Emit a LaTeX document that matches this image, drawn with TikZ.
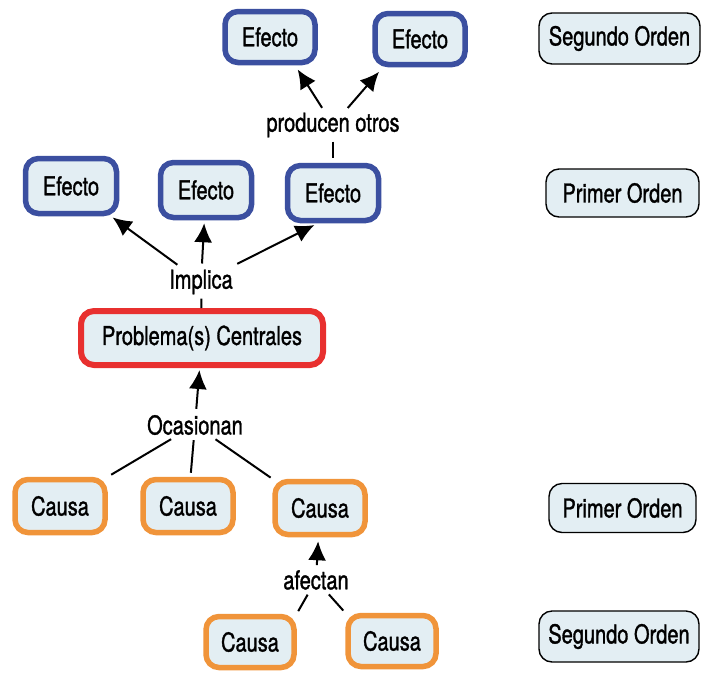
\documentclass[tikz,border=0pt]{standalone}
\usepackage{fontspec}
\setmainfont[FakeStretch=0.77,FakeBold=1.2]{TeX Gyre Heros}
\usetikzlibrary{arrows.meta,calc}
\definecolor{boxfill}{HTML}{E3EEF3}
\definecolor{efblue}{HTML}{3B4FA0}
\definecolor{pred}{HTML}{E8302F}
\definecolor{corange}{HTML}{F0943A}
\tikzset{
  basebox/.style={rounded corners=13pt, fill=boxfill, align=center, font=\fontsize{26}{28}\selectfont, inner sep=0pt},
  efbox/.style={basebox, draw=efblue, line width=5.5pt},
  probbox/.style={basebox, draw=pred, line width=6pt},
  cabox/.style={basebox, draw=corange, line width=5.5pt},
  legbox/.style={basebox, draw=black, line width=1.4pt},
  lbl/.style={font=\fontsize{26}{28}\selectfont, inner sep=3pt},
  arr/.style={line width=2pt, -{Latex[length=19pt,width=18pt]}},
  ln/.style={line width=2pt}
}
\begin{document}
\begin{tikzpicture}[x=1pt,y=-1pt]
\useasboundingbox (0,0) rectangle (701,673);
% second order effects
\node[efbox, minimum width=90pt, minimum height=51pt] (e21) at (270,37) {Efecto};
\node[efbox, minimum width=90pt, minimum height=51pt] (e22) at (420,39) {Efecto};
\node[lbl] (prod) at (333,125) {producen otros};
% first order effects
\node[efbox, minimum width=91pt, minimum height=55pt] (e11) at (71,186) {Efecto};
\node[efbox, minimum width=91pt, minimum height=55pt] (e12) at (206,190) {Efecto};
\node[efbox, minimum width=91pt, minimum height=55pt] (e13) at (333,193) {Efecto};
\node[lbl] (imp) at (201,282) {Implica};
% central problem
\node[probbox, minimum width=242pt, minimum height=54pt] (prob) at (202,338) {Problema(s) Centrales};
\node[lbl] (oc) at (195,425) {Ocasionan};
% causes
\node[cabox, minimum width=90pt, minimum height=53pt] (c11) at (60,506) {Causa};
\node[cabox, minimum width=90pt, minimum height=53pt] (c12) at (188,506) {Causa};
\node[cabox, minimum width=90pt, minimum height=53pt] (c13) at (320,508) {Causa};
\node[lbl] (af) at (316,580) {afectan};
\node[cabox, minimum width=88pt, minimum height=51pt] (c21) at (250,642) {Causa};
\node[cabox, minimum width=88pt, minimum height=51pt] (c22) at (392,641) {Causa};
% legend
\node[legbox, minimum width=161pt, minimum height=51pt] (l1) at (619.5,38.5) {Segundo Orden};
\node[legbox, minimum width=153pt, minimum height=48pt] (l2) at (622.5,193) {Primer Orden};
\node[legbox, minimum width=147pt, minimum height=49pt] (l3) at (622.5,508) {Primer Orden};
\node[legbox, minimum width=160pt, minimum height=51pt] (l4) at (619,636.5) {Segundo Orden};
% connectors top
\draw[arr, shorten <=2pt, shorten >=5pt] (prod) -- ([xshift=25pt]e21.south);
\draw[arr, shorten <=2pt, shorten >=6pt] (prod) -- ([xshift=-37pt]e22.south);
\draw[ln, shorten <=1pt, shorten >=5pt] (prod) -- (e13);
% connectors implica
\draw[arr, shorten <=3pt, shorten >=2pt] (imp) -- ([xshift=40pt]e11.south);
\draw[arr, shorten <=3pt, shorten >=3pt] (imp) -- (e12);
\draw[arr, shorten <=6pt, shorten >=4pt] (imp) -- ([xshift=-15pt]e13.south);
\draw[ln, shorten <=1pt] (imp) -- (prob);
% ocasionan
\draw[arr, shorten <=3pt, shorten >=2pt] (oc) -- (prob);
\draw[ln, shorten <=2pt, shorten >=4pt] (oc) -- (c11.north east);
\draw[ln, shorten <=2pt, shorten >=4pt] (oc) -- (c12);
\draw[ln, shorten <=2pt, shorten >=2pt] (oc) -- (c13.north west);
% afectan
\draw[arr, shorten <=2pt, shorten >=4pt] (af) -- (c13);
\draw[ln, shorten <=2pt, shorten >=3pt] (af) -- (c21.north east);
\draw[ln, shorten <=2pt, shorten >=3pt] (af) -- (c22.north west);
\end{tikzpicture}
\end{document}
